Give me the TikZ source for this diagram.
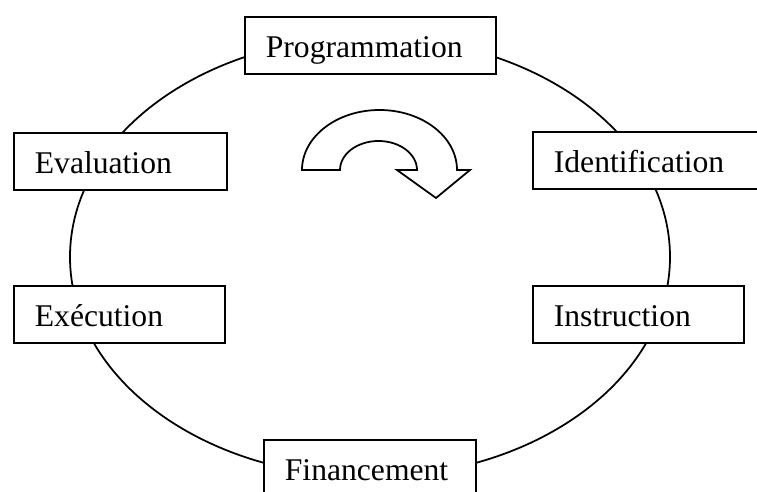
\documentclass[tikz,border=0pt]{standalone}
\usepackage{fontspec}
\setmainfont{Liberation Serif}
\usepackage{tikz}

\begin{document}
\begin{tikzpicture}[x=0.02cm, y=-0.02cm, line width=1pt,
		etape/.style={draw, fill=white, anchor=north west, align=left, inner xsep=0.42cm, inner ysep=0pt, minimum height=1.15cm, text height=14pt, text depth=0pt, font=\fontsize{18}{20}\selectfont}]
		\clip (0,0) rectangle (757,492);

		\draw (370,257) ellipse [x radius=300, y radius=220];

		\node[etape, text width=4.18cm] (prog) at (244,16) {Programmation};
		\node[etape, text width=3.42cm] (eval) at (13,132) {Evaluation};
		\node[etape, text width=4.2cm] (ident) at (532,131) {Identification};
		\node[etape, text width=3.38cm] (exec) at (13,285) {Exécution};
		\node[etape, text width=3.38cm] (instr) at (532,285) {Instruction};
		\node[etape, text width=3.40cm] (fin) at (263,439) {Financement};

		\draw[fill=white, line join=miter] (302,170) arc[start angle=180, end angle=360, x radius=77.5, y radius=60]
			-- (470,170) -- (436,198) -- (397,170) -- (417,170)
			arc[start angle=0, end angle=-180, x radius=38.5, y radius=29] -- cycle;

	\end{tikzpicture}
\end{document}
